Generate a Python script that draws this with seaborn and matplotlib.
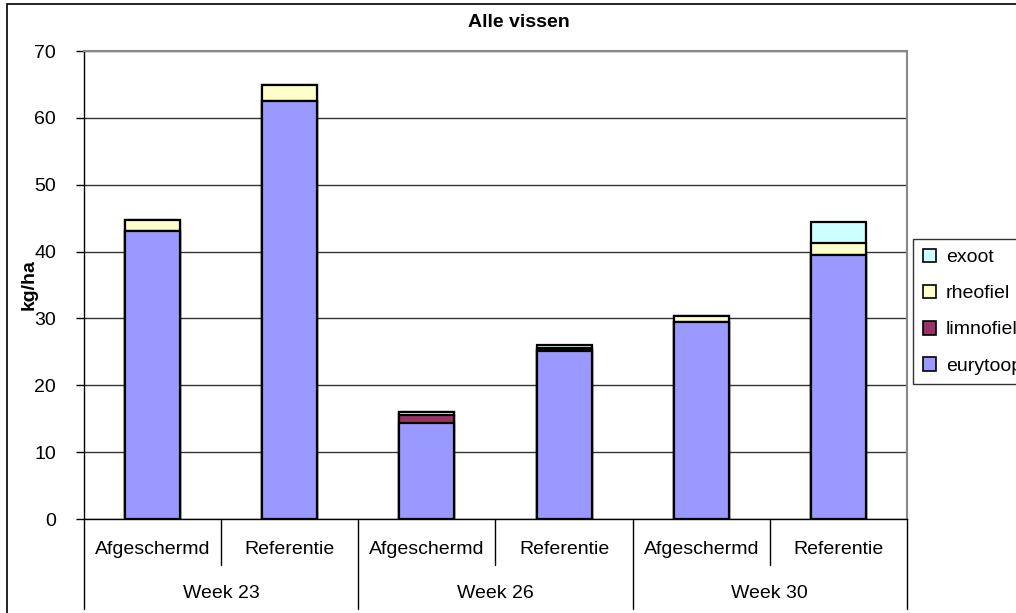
import matplotlib
matplotlib.use("Agg")
import matplotlib.pyplot as plt
import matplotlib.transforms as mtransforms
from matplotlib.patches import Patch, Rectangle
import numpy as np
import pandas as pd
import seaborn as sns

# Data (kg/ha per group per week)
weeks = ["Week 23", "Week 26", "Week 30"]
sites = ["Afgeschermd", "Referentie"]
eurytoop = [43.1, 62.5, 14.3, 25.1, 29.5, 39.5]
limnofiel = [0.0, 0.0, 1.3, 0.2, 0.0, 0.0]
rheofiel = [1.6, 2.4, 0.4, 0.3, 0.9, 1.8]
exoot = [0.0, 0.0, 0.0, 0.5, 0.0, 3.1]

series_names = ["eurytoop", "limnofiel", "rheofiel", "exoot"]
series_values = [eurytoop, limnofiel, rheofiel, exoot]
series_colors = ["#9999FF", "#993366", "#FFFFCC", "#CCFFFF"]

sns.set_theme(style="white")
plt.rcParams["font.family"] = ["Liberation Sans", "DejaVu Sans"]
plt.rcParams["text.color"] = "black"
plt.rcParams["axes.labelcolor"] = "black"
plt.rcParams["ytick.color"] = "black"
FS = 14

W, H = 1016, 613
fig = plt.figure(figsize=(W / 100, H / 100), dpi=100)
ax = fig.add_axes([84 / W, 1 - 519 / H, (907 - 84) / W, (519 - 51) / H])

labels = [f"{w}|{s}" for w in weeks for s in sites]
cum = np.cumsum(np.array(series_values), axis=0)
df = pd.DataFrame({"label": labels})
for name, c in zip(series_names, cum):
    df[name] = c

# stacked bars: draw cumulative totals from the top series down
for name, color in reversed(list(zip(series_names, series_colors))):
    sns.barplot(data=df, x="label", y=name, color=color, width=0.4,
                edgecolor="black", linewidth=1.6, saturation=1, ax=ax, zorder=3)

ax.set_xlim(-0.5, len(labels) - 0.5)
ax.set_ylim(0, 70)
ax.set_yticks(np.arange(0, 71, 10))
ax.tick_params(axis="y", labelsize=FS, length=6, width=1, color="black",
               labelcolor="black", left=True, pad=14)
ax.grid(axis="y", color="#333333", linewidth=1, zorder=0)
ax.set_axisbelow(True)
ax.set_xticks([])
ax.set_xlabel("")
ax.set_ylabel("kg/ha", fontsize=FS, fontweight="bold")
ax.yaxis.set_label_coords((38 - 84) / (907 - 84), 0.5)
for side in ["top", "right"]:
    ax.spines[side].set_color("#888888")
    ax.spines[side].set_linewidth(1.5)
for side in ["left", "bottom"]:
    ax.spines[side].set_color("black")
    ax.spines[side].set_linewidth(1)

# two-level category axis
trans = mtransforms.blended_transform_factory(ax.transData, ax.transAxes)
px = 1 / (519 - 51)
for i, lab in enumerate(labels):
    ax.text(i, -30 * px, lab.split("|")[1], transform=trans, ha="center",
            va="center", fontsize=FS, color="black")
for j, w in enumerate(weeks):
    ax.text(2 * j + 0.5, -74 * px, w, transform=trans, ha="center",
            va="center", fontsize=FS, color="black")
for k in range(len(labels) + 1):
    x = k - 0.5
    low = -90 * px if k % 2 == 0 else -46 * px
    ax.plot([x, x], [0, low], transform=trans, color="black", lw=1,
            clip_on=False, zorder=5)

ax.set_title("Alle vissen", fontsize=FS, fontweight="bold", color="black",
             x=(519 - 84) / (907 - 84), pad=17)

# legend (extends past the right edge)
handles = [Patch(facecolor=c, edgecolor="black", linewidth=1.2, label=n)
           for n, c in zip(series_names, series_colors)][::-1]
leg = fig.legend(handles=handles, loc="upper left",
                 bbox_to_anchor=(913 / W, 1 - 239 / H), frameon=True,
                 fontsize=FS, handlelength=0.7, handleheight=0.7,
                 handletextpad=0.5, labelspacing=0.95, borderpad=0.5,
                 fancybox=False, borderaxespad=0)
leg.get_frame().set_edgecolor("black")
leg.get_frame().set_linewidth(1)

# outer chart frame
fig.patches.append(Rectangle((7 / W, -0.1), 1.2, 1 - 4 / H + 0.1,
                             transform=fig.transFigure, fill=False,
                             edgecolor="black", linewidth=1.2))

fig.savefig("out.png", dpi=100)
